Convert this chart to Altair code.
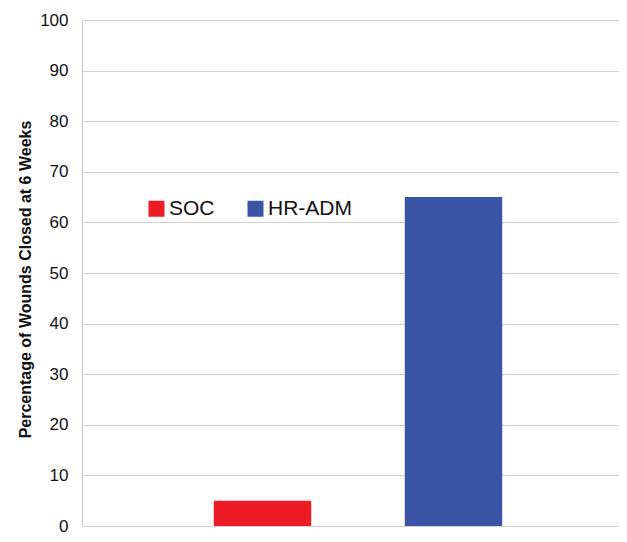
import altair as alt
import pandas as pd

groups = ["SOC", "HR-ADM"]
values = [5, 65]
colors = ["#ED1C24", "#3A53A4"]

df = pd.DataFrame({"group": groups, "value": values})

chart = alt.Chart(df).mark_bar().encode(
    x=alt.X("group:N", sort=groups,
            scale=alt.Scale(paddingInner=0.49, paddingOuter=0.69, range=[0, 552]),
            axis=None),
    y=alt.Y("value:Q",
            scale=alt.Scale(domain=[0, 100]),
            axis=alt.Axis(values=list(range(0, 101, 10)), title="Percentage of Wounds Closed at 6 Weeks",
                          titleFont="Liberation Sans", titleFontSize=16, titleFontWeight="bold",
                          titleColor="#111", titlePadding=6, titleY=259,
                          labelFont="Liberation Sans", labelFontSize=17, labelColor="#111",
                          labelPadding=14, ticks=False,
                          domainColor="#c8c8c8", gridColor="#d2d2d2", grid=True)),
    color=alt.Color("group:N", sort=groups,
                    scale=alt.Scale(domain=groups, range=colors),
                    legend=alt.Legend(orient="none", legendX=64, legendY=178, direction="horizontal",
                                      title=None, symbolType="square", symbolSize=256,
                                      symbolStrokeWidth=0, labelFont="Liberation Sans",
                                      labelFontSize=21, labelColor="#111", labelOffset=2,
                                      columnPadding=30)),
).properties(
    width=537, height=506,
    autosize=alt.AutoSizeParams(type="none"),
    padding={"left": 74, "top": 12, "right": 0, "bottom": 8},
).configure_view(stroke=None)

chart.save("out.html", embed_options={"renderer": "svg", "actions": False})
